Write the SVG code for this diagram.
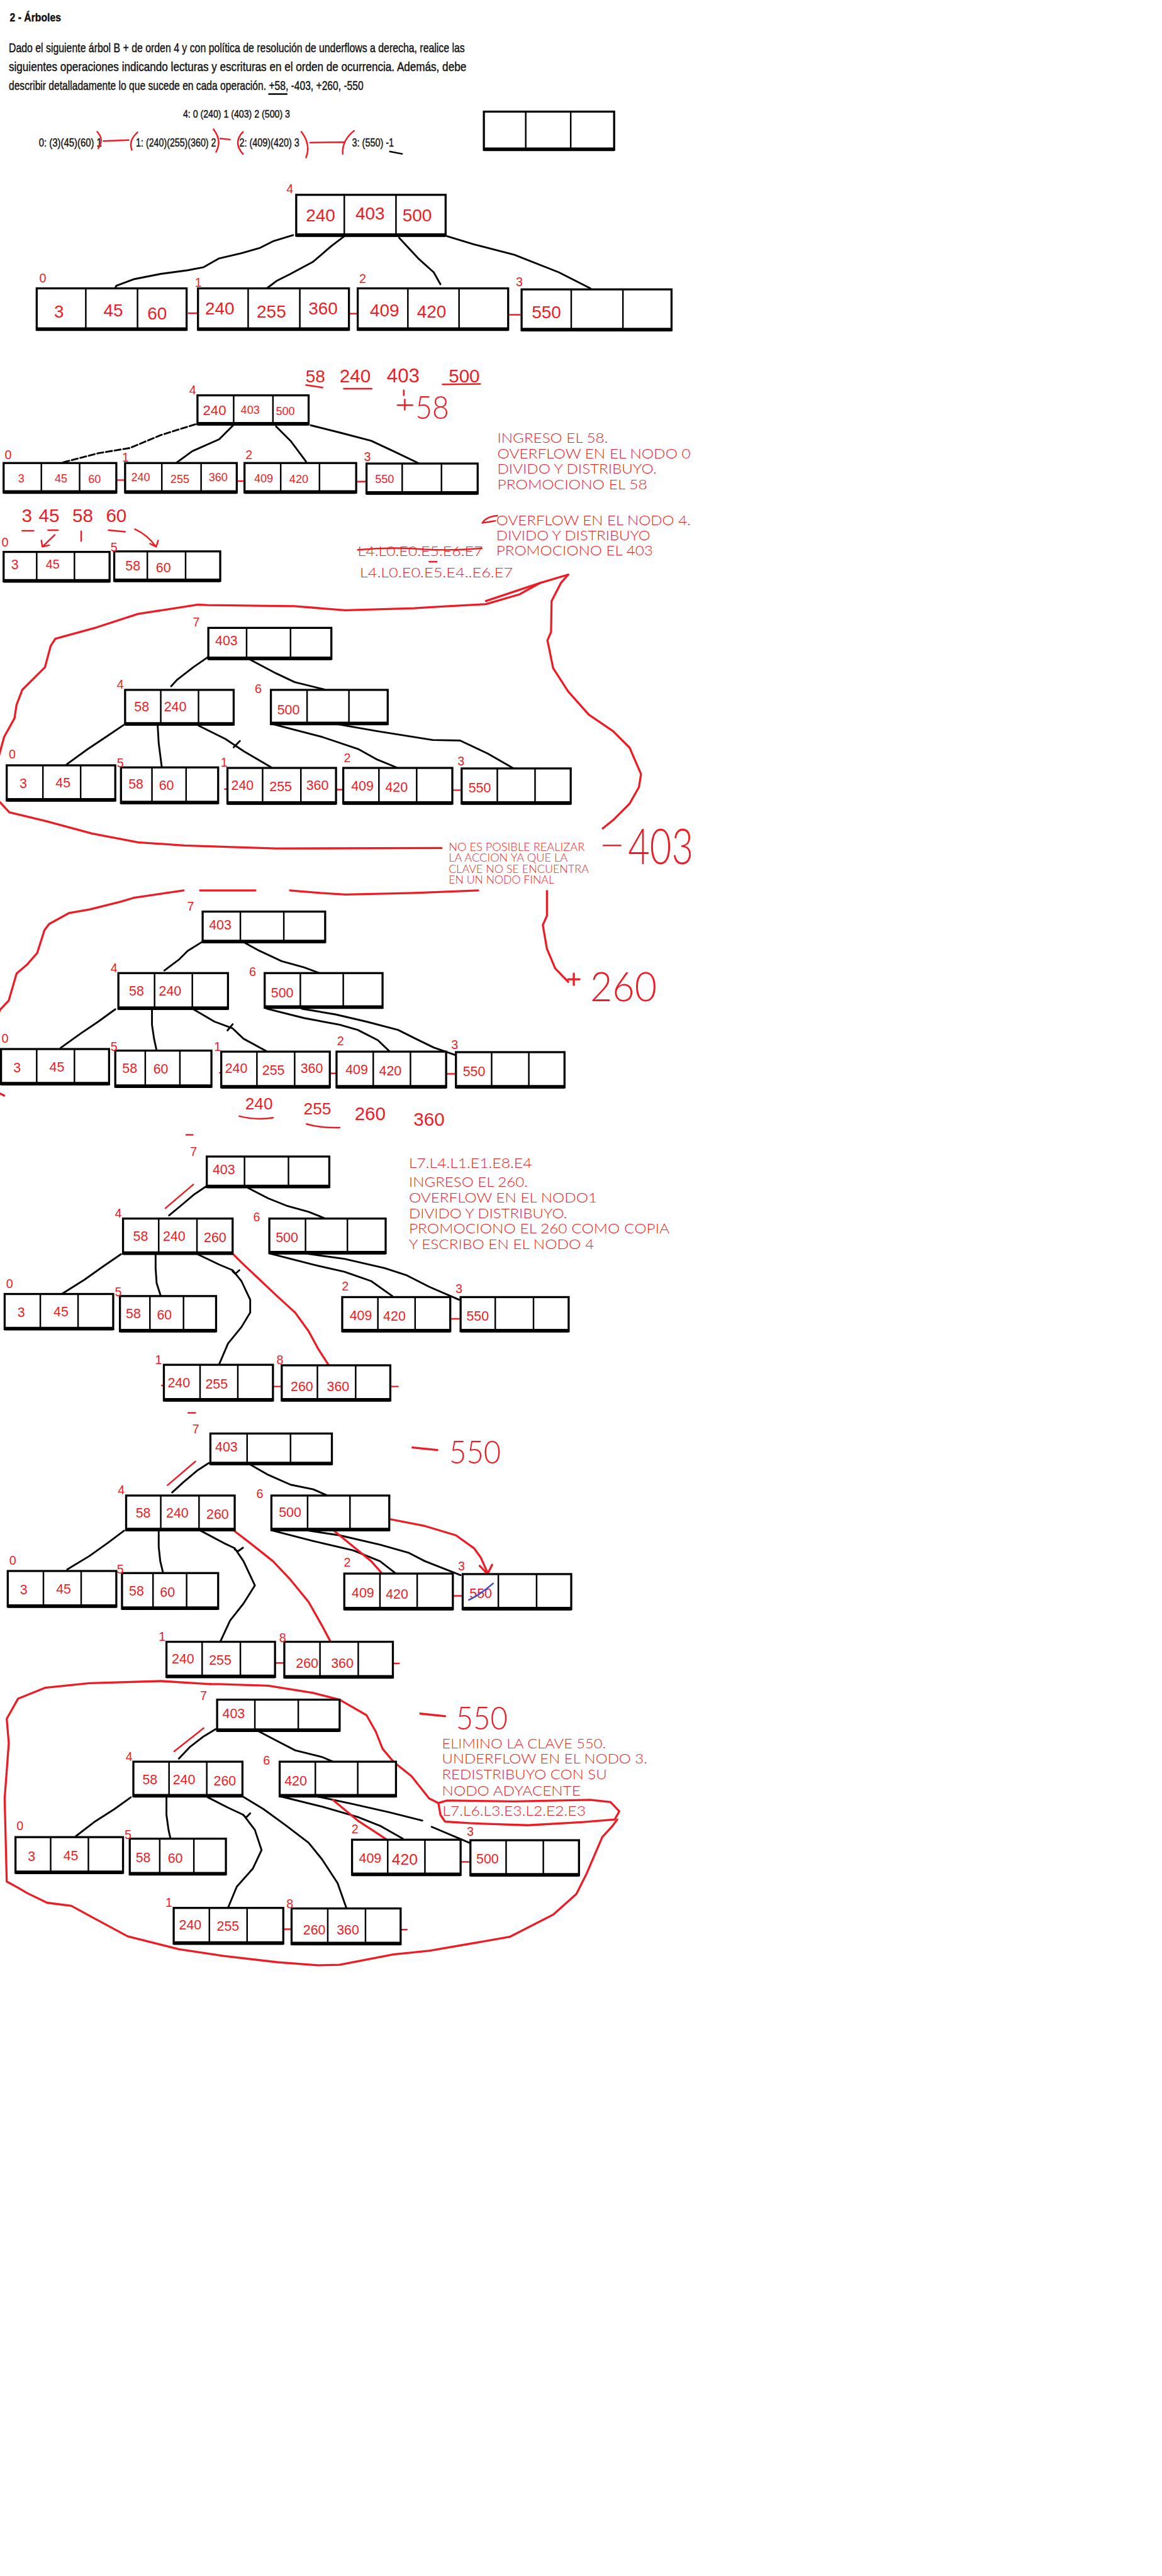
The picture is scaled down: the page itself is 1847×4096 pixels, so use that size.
<svg xmlns="http://www.w3.org/2000/svg" width="1847" height="4096" viewBox="0 0 1847 4096">
<style>
.bx{fill:#fff;stroke:#000;stroke-width:4}
.bb{stroke:#000;stroke-width:7;fill:none}
.dv{stroke:#000;stroke-width:3;fill:none}
.hw{font-family:"Liberation Sans",Arial,sans-serif;fill:#ED1C24;text-anchor:middle}
.big{font-family:"Lato","Liberation Sans",sans-serif;font-weight:300}
.h1{font-size:34px}
.h2{font-size:22px}
.h3{font-size:26px}
.lb{font-family:"Liberation Sans",Arial,sans-serif;fill:#ED1C24;font-size:24px}
.ty{font-family:"Lato","Liberation Sans",sans-serif;font-weight:300;fill:#ED1C24}
.pr{font-family:"Liberation Sans",Arial,sans-serif;fill:#111;stroke:#111;stroke-width:0.5}
.cn{fill:none;stroke:#000;stroke-width:3.5;stroke-linecap:round;stroke-linejoin:round}
.rl{fill:none;stroke:#ED1C24;stroke-width:4;stroke-linecap:round;stroke-linejoin:round}
.rt{fill:none;stroke:#ED1C24;stroke-width:3;stroke-linecap:round;stroke-linejoin:round}
</style>
<rect width="1847" height="4096" fill="#fff"/>
<g transform="scale(0.8217)">

<!-- HEADER -->
<g id="header">
<text class="pr" x="19" y="42" font-size="22" font-weight="bold" textLength="99" lengthAdjust="spacingAndGlyphs">2 - Árboles</text>
<text class="pr" x="17" y="101" font-size="24" textLength="882" lengthAdjust="spacingAndGlyphs">Dado el siguiente árbol B + de orden 4 y con política de resolución de underflows a derecha, realice las</text>
<text class="pr" x="17" y="137" font-size="24" textLength="885" lengthAdjust="spacingAndGlyphs">siguientes operaciones indicando lecturas y escrituras en el orden de ocurrencia. Además, debe</text>
<text class="pr" x="17" y="174" font-size="24" textLength="686" lengthAdjust="spacingAndGlyphs">describir detalladamente lo que sucede en cada operación. +58, -403, +260, -550</text>
<line x1="519" y1="182" x2="556" y2="182" stroke="#000" stroke-width="3"/>
<text class="pr" x="354" y="228" font-size="21" textLength="207" lengthAdjust="spacingAndGlyphs">4: 0 (240) 1 (403) 2 (500) 3</text>
<text class="pr" x="75" y="283" font-size="22" textLength="122" lengthAdjust="spacingAndGlyphs">0: (3)(45)(60) 1</text>
<text class="pr" x="263" y="283" font-size="22" textLength="155" lengthAdjust="spacingAndGlyphs">1: (240)(255)(360) 2</text>
<text class="pr" x="463" y="283" font-size="22" textLength="116" lengthAdjust="spacingAndGlyphs">2: (409)(420) 3</text>
<text class="pr" x="681" y="283" font-size="22" textLength="81" lengthAdjust="spacingAndGlyphs">3: (550) -1</text>
<path class="rt" d="M188,255 Q202,270 190,287 M200,273 L249,271 M266,256 Q248,272 255,290 M413,250 Q430,272 418,294 M426,268 L445,270 M470,255 Q450,276 470,298 M583,255 Q602,280 592,305 M600,276 L666,275 M685,253 Q661,272 663,298"/>
<line x1="753" y1="293" x2="779" y2="298" stroke="#000" stroke-width="3"/>
<g id="empty-node">
<rect class="bx" x="936" y="216" width="252" height="74" stroke-width="5"/>
<path class="dv" d="M1017,216V290M1104,216V290" stroke-width="4"/>
<line class="bb" x1="936" y1="289" x2="1188" y2="289"/>
</g>
</g>

<!-- TREE 1 -->
<g id="tree1">
<g id="t1-connectors">
<path class="cn" d="M567,455 L528,467 L502,480 L467,490 L424,500 L394,517 L363,523 L311,530 L260,540 L225,553 L223,557"/>
<path class="cn" d="M666,457 L640,477 L605,507 L562,530 L536,543 L516,558"/>
<path class="cn" d="M772,460 L809,500 L839,527 L852,550"/>
<path class="cn" d="M865,457 L917,473 L995,493 L1081,527 L1142,558"/>
<path class="rt" d="M365,606H383M675,607H692M986,609H1006" stroke-width="4"/>
</g>
<g id="t1-n4">
<rect class="bx" x="573" y="377" width="289" height="79"/><path class="dv" d="M666,377V456M766,377V456"/><line class="bb" x1="573" y1="455" x2="862" y2="455"/>
<text class="hw h1" x="620" y="428">240</text><text class="hw h1" x="716" y="425">403</text><text class="hw h1" x="807" y="428">500</text>
<text class="lb" x="554" y="374" font-size="26">4</text>
</g>
<g id="t1-n0">
<rect class="bx" x="71" y="558" width="290" height="80"/><path class="dv" d="M166,558V638M266,558V638"/><line class="bb" x1="71" y1="637" x2="361" y2="637"/>
<text class="hw h1" x="114" y="614">3</text><text class="hw h1" x="219" y="612">45</text><text class="hw h1" x="304" y="618">60</text>
<text class="lb" x="76" y="547" font-size="30">0</text>
</g>
<g id="t1-n1">
<rect class="bx" x="383" y="558" width="292" height="80"/><path class="dv" d="M480,558V638M580,558V638"/><line class="bb" x1="383" y1="637" x2="675" y2="637"/>
<text class="hw h1" x="425" y="609">240</text><text class="hw h1" x="525" y="614">255</text><text class="hw h1" x="625" y="608">360</text>
<text class="lb" x="377" y="555" font-size="26">1</text>
</g>
<g id="t1-n2">
<rect class="bx" x="692" y="558" width="291" height="80"/><path class="dv" d="M789,558V638M888,558V638"/><line class="bb" x1="692" y1="637" x2="983" y2="637"/>
<text class="hw h1" x="744" y="612">409</text><text class="hw h1" x="835" y="614">420</text>
<text class="lb" x="695" y="548" font-size="24">2</text>
</g>
<g id="t1-n3">
<rect class="bx" x="1009" y="560" width="290" height="79"/><path class="dv" d="M1105,560V639M1205,560V639"/><line class="bb" x1="1009" y1="638" x2="1299" y2="638"/>
<text class="hw h1" x="1057" y="616">550</text>
<text class="lb" x="998" y="554" font-size="26">3</text>
</g>
</g>

<!-- TREE 2 -->
<g id="tree2">
<g id="t2-notes">
<text class="hw" x="610" y="740" font-size="34">58</text>
<text class="hw" x="687" y="740" font-size="36">240</text>
<text class="hw" x="780" y="740" font-size="38">403</text>
<text class="hw" x="898" y="740" font-size="36">500</text>
<path class="rt" d="M592,745 L624,750 M665,752 L719,752 M856,744 L929,743 M781,755 L781,765"/>
<path class="rt" d="M783,773 V793 M769,784 H798" stroke-width="3.5"/>
<text class="hw big" x="836" y="811" font-size="62" textLength="65" lengthAdjust="spacingAndGlyphs">58</text>
<text class="ty" x="962" y="857" font-size="25" textLength="214" lengthAdjust="spacingAndGlyphs">INGRESO EL 58.</text>
<text class="ty" x="962" y="887" font-size="25" textLength="374" lengthAdjust="spacingAndGlyphs">OVERFLOW EN EL NODO 0</text>
<text class="ty" x="962" y="917" font-size="25" textLength="308" lengthAdjust="spacingAndGlyphs">DIVIDO Y DISTRIBUYO.</text>
<text class="ty" x="962" y="947" font-size="25" textLength="290" lengthAdjust="spacingAndGlyphs">PROMOCIONO EL 58</text>
<path class="rt" d="M962,998 Q940,1000 933,1012 L958,1008"/>
<text class="ty" x="960" y="1016" font-size="25" textLength="376" lengthAdjust="spacingAndGlyphs">OVERFLOW EN EL NODO 4.</text>
<text class="ty" x="960" y="1045" font-size="25" textLength="298" lengthAdjust="spacingAndGlyphs">DIVIDO Y DISTRIBUYO</text>
<text class="ty" x="960" y="1075" font-size="25" textLength="303" lengthAdjust="spacingAndGlyphs">PROMOCIONO EL 403</text>
<text class="ty" x="692" y="1076" font-size="25" textLength="242" lengthAdjust="spacingAndGlyphs">L4.L0.E0.E5.E6.E7</text>
<path class="rt" d="M692,1064 Q760,1058 820,1063 Q880,1066 932,1061" stroke-width="4"/>
<line x1="829" y1="1087" x2="846" y2="1087" stroke="#ED1C24" stroke-width="3"/>
<text class="ty" x="696" y="1117" font-size="25" textLength="296" lengthAdjust="spacingAndGlyphs">L4.L0.E0.E5.E4..E6.E7</text>
<text class="hw" x="52" y="1010" font-size="36">3</text>
<text class="hw" x="95" y="1010" font-size="36">45</text>
<text class="hw" x="160" y="1010" font-size="36">58</text>
<text class="hw" x="225" y="1010" font-size="36">60</text>
<path class="rt" d="M43,1027H65M93,1026H112M157,1028V1047M210,1026 L242,1029"/>
<path class="rt" d="M106,1035 L82,1058 M80,1046 L82,1058 L95,1055"/>
<path class="rt" d="M261,1024 Q285,1035 301,1057 M290,1052 L302,1058 L306,1046"/>
</g>
<g id="t2-connectors">
<path class="cn" d="M378,821 L311,842 L251,867 L190,877 L121,895" stroke-dasharray="12 5"/>
<path class="cn" d="M452,822 L424,850 L372,873 L342,895" stroke-width="3"/>
<path class="cn" d="M534,825 L562,853 L592,893" stroke-width="4.5"/>
<path class="cn" d="M601,823 L657,837 L718,853 L761,873 L809,896" stroke-width="5"/>
<path class="rt" d="M227,929H240M458,931H473M692,932H707" stroke-width="3.5"/>
</g>
<g id="t2-n4">
<rect class="bx" x="382" y="765" width="215" height="56"/><path class="dv" d="M452,765V821M528,765V821"/><line class="bb" x1="382" y1="820" x2="597" y2="820"/>
<text class="hw" x="415" y="803" font-size="27">240</text><text class="hw h2" x="484" y="801">403</text><text class="hw h2" x="552" y="803">500</text>
<text class="lb" x="366" y="763" font-size="20">4</text>
</g>
<g id="t2-n0">
<rect class="bx" x="7" y="896" width="218" height="57"/><path class="dv" d="M80,896V953M154,896V953"/><line class="bb" x1="7" y1="952" x2="225" y2="952"/>
<text class="hw h2" x="41" y="933">3</text><text class="hw h2" x="118" y="933">45</text><text class="hw h2" x="183" y="935">60</text>
<text class="lb" x="9" y="888" font-size="22">0</text>
</g>
<g id="t2-n1">
<rect class="bx" x="242" y="896" width="216" height="57"/><path class="dv" d="M313,896V953M389,896V953"/><line class="bb" x1="242" y1="952" x2="458" y2="952"/>
<text class="hw h2" x="272" y="931">240</text><text class="hw h2" x="348" y="935">255</text><text class="hw h2" x="422" y="931">360</text>
<text class="lb" x="236" y="893" font-size="20">1</text>
</g>
<g id="t2-n2">
<rect class="bx" x="473" y="896" width="216" height="57"/><path class="dv" d="M543,896V953M618,896V953"/><line class="bb" x1="473" y1="952" x2="689" y2="952"/>
<text class="hw h2" x="510" y="933">409</text><text class="hw h2" x="578" y="935">420</text>
<text class="lb" x="475" y="888" font-size="20">2</text>
</g>
<g id="t2-n3">
<rect class="bx" x="709" y="897" width="215" height="58"/><path class="dv" d="M778,897V955M854,897V955"/><line class="bb" x1="709" y1="954" x2="924" y2="954"/>
<text class="hw h2" x="744" y="935">550</text>
<text class="lb" x="704" y="892" font-size="22">3</text>
</g>
<g id="t2-s0">
<rect class="bx" x="7" y="1068" width="205" height="57"/><path class="dv" d="M71,1068V1125M144,1068V1125"/><line class="bb" x1="7" y1="1124" x2="212" y2="1124"/>
<text class="hw" x="29" y="1102" font-size="26">3</text><text class="hw" x="102" y="1100" font-size="24">45</text>
<text class="lb" x="3" y="1058" font-size="22">0</text>
</g>
<g id="t2-s5">
<rect class="bx" x="221" y="1067" width="205" height="57"/><path class="dv" d="M285,1067V1124M359,1067V1124"/><line class="bb" x1="221" y1="1123" x2="426" y2="1123"/>
<text class="hw" x="257" y="1104" font-size="26">58</text><text class="hw" x="316" y="1108" font-size="26">60</text>
<text class="lb" x="214" y="1067" font-size="24">5</text>
</g>
</g>

<!-- TREE 3 -->
<g id="tree3">
<g id="t3-loop">
<path class="rl" d="M1099,1112 L1085,1128 L1067,1163 L1066,1223 L1059,1239 L1070,1293 L1099,1338 L1139,1383 L1186,1415 L1218,1447 L1240,1498 L1236,1523 L1218,1555 L1186,1587 L1166,1603"/>
<path class="rl" d="M1099,1112 L1045,1128 L1005,1150 L940,1169 L850,1174 L801,1177 L668,1181 L570,1173 L401,1171 L383,1170 L267,1188 L187,1214 L107,1236 L98,1250 L87,1291 L43,1335 L32,1364 L28,1390 L8,1426 L-4,1470 L-4,1548 L18,1572 L89,1589 L178,1613 L267,1630 L356,1636 L534,1642 L854,1641"/>
<path class="rl" d="M940,1163 L1045,1128" stroke-width="3"/>
</g>
<g id="t3-notes">
<text class="ty" x="868" y="1646" font-size="21" textLength="263" lengthAdjust="spacingAndGlyphs">NO ES POSIBLE REALIZAR</text>
<text class="ty" x="868" y="1667" font-size="21" textLength="230" lengthAdjust="spacingAndGlyphs">LA ACCION YA QUE LA</text>
<text class="ty" x="868" y="1689" font-size="21" textLength="271" lengthAdjust="spacingAndGlyphs">CLAVE NO SE ENCUENTRA</text>
<text class="ty" x="868" y="1710" font-size="21" textLength="204" lengthAdjust="spacingAndGlyphs">EN UN NODO FINAL</text>
<line x1="1166" y1="1636" x2="1202" y2="1636" stroke="#ED1C24" stroke-width="3"/>
<text class="hw big" x="1278" y="1672" font-size="95" textLength="126" lengthAdjust="spacingAndGlyphs">403</text>
</g>
<g id="t3-connectors">
<path class="cn" d="M403,1271 L374,1291 L343,1315 L331,1328"/>
<path class="cn" d="M483,1276 L534,1303 L570,1320 L627,1334"/>
<path class="cn" d="M239,1403 L205,1426 L169,1450 L129,1479"/>
<path class="cn" d="M305,1404 L307,1438 L313,1485" stroke-width="3"/>
<path class="cn" d="M384,1404 L436,1430 L472,1454 L525,1485 M452,1446 L464,1434"/>
<path class="cn" d="M531,1402 L623,1426 L694,1450 L730,1470 L767,1485"/>
<path class="cn" d="M650,1401 L730,1415 L837,1432 L890,1433 L943,1458 L997,1489"/>
<path class="rt" d="M650,1528H664M877,1529H893M435,1527H438" stroke-width="3.5"/>
</g>
<g id="t3-n7">
<rect class="bx" x="403" y="1215" width="238" height="60"/><path class="dv" d="M477,1215V1275M562,1215V1275"/><line class="bb" x1="403" y1="1274" x2="641" y2="1274"/>
<text class="hw h3" x="438" y="1249">403</text>
<text class="lb" x="373" y="1212" font-size="30">7</text>
</g>
<g id="t3-n4">
<rect class="bx" x="242" y="1335" width="210" height="67"/><path class="dv" d="M311,1335V1402M384,1335V1402"/><line class="bb" x1="242" y1="1401" x2="452" y2="1401"/>
<text class="hw h3" x="274" y="1376">58</text><text class="hw h3" x="339" y="1376">240</text>
<text class="lb" x="226" y="1333">4</text>
</g>
<g id="t3-n6">
<rect class="bx" x="524" y="1335" width="226" height="66"/><path class="dv" d="M594,1335V1401M675,1335V1401"/><line class="bb" x1="524" y1="1400" x2="750" y2="1400"/>
<text class="hw h3" x="558" y="1383">500</text>
<text class="lb" x="493" y="1341" font-size="30">6</text>
</g>
<g id="t3-l0">
<rect class="bx" x="13" y="1481" width="210" height="68"/><path class="dv" d="M83,1481V1549M156,1481V1549"/><line class="bb" x1="13" y1="1548" x2="223" y2="1548"/>
<text class="hw h3" x="45" y="1525">3</text><text class="hw h3" x="122" y="1524">45</text>
<text class="lb" x="17" y="1468">0</text>
</g>
<g id="t3-l5">
<rect class="bx" x="234" y="1485" width="188" height="69"/><path class="dv" d="M294,1485V1554M360,1485V1554"/><line class="bb" x1="234" y1="1553" x2="422" y2="1553"/>
<text class="hw h3" x="263" y="1526">58</text><text class="hw h3" x="322" y="1528">60</text>
<text class="lb" x="226" y="1485">5</text>
</g>
<g id="t3-l1">
<rect class="bx" x="440" y="1486" width="210" height="69"/><path class="dv" d="M508,1486V1555M582,1486V1555"/><line class="bb" x1="440" y1="1554" x2="650" y2="1554"/>
<text class="hw h3" x="469" y="1528">240</text><text class="hw h3" x="543" y="1531">255</text><text class="hw h3" x="614" y="1528">360</text>
<text class="lb" x="427" y="1483" font-size="20">1</text>
</g>
<g id="t3-l2">
<rect class="bx" x="664" y="1486" width="211" height="69"/><path class="dv" d="M733,1486V1555M806,1486V1555"/><line class="bb" x1="664" y1="1554" x2="875" y2="1554"/>
<text class="hw h3" x="701" y="1530">409</text><text class="hw h3" x="767" y="1532">420</text>
<text class="lb" x="665" y="1475" font-size="20">2</text>
</g>
<g id="t3-l3">
<rect class="bx" x="893" y="1487" width="211" height="68"/><path class="dv" d="M962,1487V1555M1035,1487V1555"/><line class="bb" x1="893" y1="1554" x2="1104" y2="1554"/>
<text class="hw h3" x="928" y="1533">550</text>
<text class="lb" x="885" y="1481">3</text>
</g>
</g>

<!-- TREE 4 -->
<g id="tree4">
<g id="t4-loop">
<path class="rl" d="M-4,1965 L0,1954 L17,1936 L32,1884 L52,1867 L72,1844 L86,1800 L95,1788 L133,1767 L173,1760 L233,1745 L260,1737 L355,1723"/>
<path class="rl" d="M387,1723 L494,1723"/>
<path class="rl" d="M561,1723 L620,1728 L668,1731 L801,1728 L925,1723"/>
<path class="rl" d="M1058,1724 L1058,1772 L1050,1790 L1058,1836 L1074,1874 L1099,1900"/>
<path class="rl" d="M-2,2115 L8,2120"/>
</g>
<g id="t4-notes">
<path class="rl" d="M1110,1884 V1906 M1099,1895 H1121" stroke-width="3.5"/>
<text class="hw big" x="1206" y="1937" font-size="80" textLength="129" lengthAdjust="spacingAndGlyphs">260</text>
<text class="hw" x="501" y="2147" font-size="32">240</text>
<text class="hw" x="614" y="2156" font-size="32">255</text>
<text class="hw" x="716" y="2167" font-size="36">260</text>
<text class="hw" x="830" y="2178" font-size="36">360</text>
<path class="rt" d="M463,2160 Q495,2168 528,2163 M593,2175 Q620,2183 657,2182"/>
</g>
<g id="t4-connectors">
<path class="cn" d="M392,1822 L363,1840 L346,1857 L318,1878"/>
<path class="cn" d="M471,1823 L502,1840 L545,1860 L588,1872 L618,1883"/>
<path class="cn" d="M223,1953 L190,1977 L156,2000 L117,2028"/>
<path class="cn" d="M294,1953 L294,1983 L298,2010 L303,2033" stroke-width="3"/>
<path class="cn" d="M374,1953 L415,1977 L450,1990 L471,2010 L515,2034 M440,1994 L450,1982"/>
<path class="cn" d="M516,1952 L588,1970 L657,1983 L692,1993 L731,2013 L753,2034"/>
<path class="cn" d="M584,1952 L649,1963 L709,1977 L770,1993 L804,2010 L839,2027 L882,2042"/>
<path class="rt" d="M638,2077H651M865,2078H881M425,2076H428" stroke-width="3.5"/>
</g>
<g id="t4-n7">
<rect class="bx" x="392" y="1764" width="237" height="59"/><path class="dv" d="M465,1764V1823M549,1764V1823"/><line class="bb" x1="392" y1="1822" x2="629" y2="1822"/>
<text class="hw h3" x="426" y="1799">403</text>
<text class="lb" x="362" y="1762" font-size="30">7</text>
</g>
<g id="t4-n4">
<rect class="bx" x="229" y="1883" width="212" height="69"/><path class="dv" d="M299,1883V1952M372,1883V1952"/><line class="bb" x1="229" y1="1951" x2="441" y2="1951"/>
<text class="hw h3" x="264" y="1927">58</text><text class="hw h3" x="329" y="1927">240</text>
<text class="lb" x="214" y="1882">4</text>
</g>
<g id="t4-n6">
<rect class="bx" x="512" y="1883" width="228" height="67"/><path class="dv" d="M581,1883V1950M664,1883V1950"/><line class="bb" x1="512" y1="1949" x2="740" y2="1949"/>
<text class="hw h3" x="546" y="1930">500</text>
<text class="lb" x="482" y="1889" font-size="30">6</text>
</g>
<g id="t4-l0">
<rect class="bx" x="2" y="2030" width="209" height="68"/><path class="dv" d="M71,2030V2098M144,2030V2098"/><line class="bb" x1="2" y1="2097" x2="211" y2="2097"/>
<text class="hw h3" x="33" y="2075">3</text><text class="hw h3" x="110" y="2074">45</text>
<text class="lb" x="3" y="2018">0</text>
</g>
<g id="t4-l5">
<rect class="bx" x="223" y="2033" width="186" height="70"/><path class="dv" d="M281,2033V2103M348,2033V2103"/><line class="bb" x1="223" y1="2102" x2="409" y2="2102"/>
<text class="hw h3" x="251" y="2076">58</text><text class="hw h3" x="311" y="2078">60</text>
<text class="lb" x="214" y="2033">5</text>
</g>
<g id="t4-l1">
<rect class="bx" x="428" y="2035" width="210" height="69"/><path class="dv" d="M497,2035V2104M570,2035V2104"/><line class="bb" x1="428" y1="2103" x2="638" y2="2103"/>
<text class="hw h3" x="457" y="2076">240</text><text class="hw h3" x="529" y="2080">255</text><text class="hw h3" x="603" y="2076">360</text>
<text class="lb" x="414" y="2033" font-size="20">1</text>
</g>
<g id="t4-l2">
<rect class="bx" x="651" y="2035" width="212" height="69"/><path class="dv" d="M722,2035V2104M794,2035V2104"/><line class="bb" x1="651" y1="2103" x2="863" y2="2103"/>
<text class="hw h3" x="690" y="2079">409</text><text class="hw h3" x="755" y="2081">420</text>
<text class="lb" x="652" y="2023" font-size="20">2</text>
</g>
<g id="t4-l3">
<rect class="bx" x="882" y="2036" width="210" height="68"/><path class="dv" d="M951,2036V2104M1023,2036V2104"/><line class="bb" x1="882" y1="2103" x2="1092" y2="2103"/>
<text class="hw h3" x="917" y="2082">550</text>
<text class="lb" x="873" y="2030">3</text>
</g>
</g>

<!-- TREE 5 -->
<g id="tree5">
<g id="t5-notes">
<line x1="359" y1="2196" x2="374" y2="2196" stroke="#ED1C24" stroke-width="3"/>
<text class="ty" x="791" y="2260" font-size="26" textLength="238" lengthAdjust="spacingAndGlyphs">L7.L4.L1.E1.E8.E4</text>
<text class="ty" x="791" y="2297" font-size="26" textLength="230" lengthAdjust="spacingAndGlyphs">INGRESO EL 260.</text>
<text class="ty" x="791" y="2327" font-size="26" textLength="364" lengthAdjust="spacingAndGlyphs">OVERFLOW EN EL NODO1</text>
<text class="ty" x="791" y="2357" font-size="26" textLength="306" lengthAdjust="spacingAndGlyphs">DIVIDO Y DISTRIBUYO.</text>
<text class="ty" x="791" y="2387" font-size="26" textLength="504" lengthAdjust="spacingAndGlyphs">PROMOCIONO EL 260 COMO COPIA</text>
<text class="ty" x="791" y="2417" font-size="26" textLength="358" lengthAdjust="spacingAndGlyphs">Y ESCRIBO EN EL NODO 4</text>
<path class="rt" d="M320,2338 L374,2292"/>
</g>
<g id="t5-connectors">
<path class="cn" d="M400,2295 L376,2311 L350,2333 L327,2352"/>
<path class="cn" d="M480,2299 L519,2319 L554,2333 L597,2345 L627,2357"/>
<path class="cn" d="M234,2427 L199,2451 L164,2476 L121,2503"/>
<path class="cn" d="M301,2427 L301,2454 L303,2483 L311,2508" stroke-width="3"/>
<path class="cn" d="M382,2427 L424,2447 L450,2458 L467,2479 L484,2515 L484,2540 L467,2568 L441,2600 L424,2640 M450,2460 L455,2465 L463,2458"/>
<path class="rl" d="M450,2426 L467,2443 L502,2476 L536,2508 L571,2540 L597,2576 L616,2611 L636,2642" stroke-width="3"/>
<path class="cn" d="M523,2426 L605,2447 L666,2461 L718,2479 L759,2508"/>
<path class="cn" d="M593,2426 L666,2436 L744,2454 L787,2468 L830,2490 L888,2515"/>
<path class="rt" d="M874,2552H888M529,2683H545M757,2683H770M313,2681H316" stroke-width="3.5"/>
</g>
<g id="t5-n7">
<rect class="bx" x="400" y="2238" width="237" height="59"/><path class="dv" d="M473,2238V2297M558,2238V2297"/><line class="bb" x1="400" y1="2296" x2="637" y2="2296"/>
<text class="hw h3" x="433" y="2272">403</text>
<text class="lb" x="368" y="2237" font-size="30">7</text>
</g>
<g id="t5-n4">
<rect class="bx" x="238" y="2358" width="212" height="68"/><path class="dv" d="M307,2358V2426M381,2358V2426"/><line class="bb" x1="238" y1="2425" x2="450" y2="2425"/>
<text class="hw h3" x="272" y="2401">58</text><text class="hw h3" x="337" y="2401">240</text><text class="hw h3" x="416" y="2403">260</text>
<text class="lb" x="222" y="2356">4</text>
</g>
<g id="t5-n6">
<rect class="bx" x="521" y="2358" width="225" height="67"/><path class="dv" d="M591,2358V2425M672,2358V2425"/><line class="bb" x1="521" y1="2424" x2="746" y2="2424"/>
<text class="hw h3" x="555" y="2404">500</text>
<text class="lb" x="490" y="2364" font-size="30">6</text>
</g>
<g id="t5-l0">
<rect class="bx" x="9" y="2504" width="210" height="68"/><path class="dv" d="M78,2504V2572M151,2504V2572"/><line class="bb" x1="9" y1="2571" x2="219" y2="2571"/>
<text class="hw h3" x="41" y="2548">3</text><text class="hw h3" x="118" y="2547">45</text>
<text class="lb" x="12" y="2492">0</text>
</g>
<g id="t5-l5">
<rect class="bx" x="232" y="2508" width="186" height="68"/><path class="dv" d="M290,2508V2576M355,2508V2576"/><line class="bb" x1="232" y1="2575" x2="418" y2="2575"/>
<text class="hw h3" x="258" y="2551">58</text><text class="hw h3" x="318" y="2553">60</text>
<text class="lb" x="222" y="2508">5</text>
</g>
<g id="t5-l2">
<rect class="bx" x="662" y="2510" width="209" height="66"/><path class="dv" d="M731,2510V2576M803,2510V2576"/><line class="bb" x1="662" y1="2575" x2="871" y2="2575"/>
<text class="hw h3" x="698" y="2554">409</text><text class="hw h3" x="763" y="2556">420</text>
<text class="lb" x="661" y="2497" font-size="20">2</text>
</g>
<g id="t5-l3">
<rect class="bx" x="891" y="2510" width="209" height="66"/><path class="dv" d="M958,2510V2576M1032,2510V2576"/><line class="bb" x1="891" y1="2575" x2="1100" y2="2575"/>
<text class="hw h3" x="924" y="2556">550</text>
<text class="lb" x="881" y="2502">3</text>
</g>
<g id="t5-l1">
<rect class="bx" x="317" y="2641" width="211" height="69"/><path class="dv" d="M387,2641V2710M460,2641V2710"/><line class="bb" x1="317" y1="2709" x2="528" y2="2709"/>
<text class="hw h3" x="346" y="2685">240</text><text class="hw h3" x="419" y="2687">255</text>
<text class="lb" x="300" y="2640" font-size="26">1</text>
</g>
<g id="t5-l8">
<rect class="bx" x="545" y="2642" width="210" height="68"/><path class="dv" d="M614,2642V2710M688,2642V2710"/><line class="bb" x1="545" y1="2709" x2="755" y2="2709"/>
<text class="hw h3" x="584" y="2692">260</text><text class="hw h3" x="654" y="2692">360</text>
<text class="lb" x="535" y="2640" font-size="30">8</text>
</g>
</g>

<!-- TREE 6 -->
<g id="tree6">
<g id="t6-notes">
<line x1="363" y1="2734" x2="379" y2="2734" stroke="#ED1C24" stroke-width="3"/>
<path class="rl" d="M798,2801 L846,2806" stroke-width="3.5"/>
<text class="hw big" x="919" y="2832" font-size="62" textLength="100" lengthAdjust="spacingAndGlyphs">550</text>
<path class="rt" d="M324,2874 L378,2828"/>
</g>
<g id="t6-connectors">
<path class="cn" d="M404,2831 L381,2846 L355,2868 L333,2888"/>
<path class="cn" d="M484,2834 L519,2854 L562,2873 L606,2882 L631,2893"/>
<path class="cn" d="M240,2962 L208,2986 L173,3011 L130,3037"/>
<path class="cn" d="M307,2962 L307,2993 L310,3021 L316,3046" stroke-width="3"/>
<path class="cn" d="M388,2962 L433,2986 L454,2996 L471,3021 L493,3068 L471,3103 L445,3136 L426,3177 M454,2998 L460,3002 L470,2995"/>
<path class="rl" d="M454,2963 L484,2986 L528,3021 L562,3057 L597,3100 L623,3146 L640,3178" stroke-width="3"/>
<path class="cn" d="M528,2962 L606,2982 L683,3000 L735,3021 L766,3045"/>
<path class="cn" d="M597,2962 L657,2971 L735,2989 L791,3005 L822,3021 L891,3048"/>
<path class="rl" d="M757,3065 L718,3021 L675,2986 L640,2957 L614,2950 L597,2946 M586,2958 L592,2940 L604,2950" stroke-width="3"/>
<path class="rl" d="M595,2918 L649,2928 L735,2936 L822,2953 L882,2971 L917,2996 L930,3014 L943,3043 M928,3030 L943,3046 L952,3028" stroke-width="3"/>
<path class="rt" d="M878,3088H894M534,3218H549M761,3219H772" stroke-width="3.5"/>
</g>
<g id="t6-n7">
<rect class="bx" x="407" y="2774" width="235" height="59"/><path class="dv" d="M478,2774V2833M562,2774V2833"/><line class="bb" x1="407" y1="2832" x2="642" y2="2832"/>
<text class="hw h3" x="438" y="2809">403</text>
<text class="lb" x="372" y="2774" font-size="30">7</text>
</g>
<g id="t6-n4">
<rect class="bx" x="244" y="2894" width="210" height="67"/><path class="dv" d="M311,2894V2961M385,2894V2961"/><line class="bb" x1="244" y1="2960" x2="454" y2="2960"/>
<text class="hw h3" x="277" y="2937">58</text><text class="hw h3" x="343" y="2937">240</text><text class="hw h3" x="421" y="2939">260</text>
<text class="lb" x="228" y="2891">4</text>
</g>
<g id="t6-n6">
<rect class="bx" x="525" y="2894" width="228" height="67"/><path class="dv" d="M595,2894V2961M677,2894V2961"/><line class="bb" x1="525" y1="2960" x2="753" y2="2960"/>
<text class="hw h3" x="561" y="2936">500</text>
<text class="lb" x="496" y="2899" font-size="30">6</text>
</g>
<g id="t6-l0">
<rect class="bx" x="15" y="3040" width="210" height="69"/><path class="dv" d="M84,3040V3109M157,3040V3109"/><line class="bb" x1="15" y1="3108" x2="225" y2="3108"/>
<text class="hw h3" x="46" y="3085">3</text><text class="hw h3" x="123" y="3084">45</text>
<text class="lb" x="18" y="3028">0</text>
</g>
<g id="t6-l5">
<rect class="bx" x="236" y="3044" width="186" height="69"/><path class="dv" d="M296,3044V3113M361,3044V3113"/><line class="bb" x1="236" y1="3112" x2="422" y2="3112"/>
<text class="hw h3" x="264" y="3088">58</text><text class="hw h3" x="324" y="3090">60</text>
<text class="lb" x="226" y="3045">5</text>
</g>
<g id="t6-l2">
<rect class="bx" x="666" y="3045" width="210" height="69"/><path class="dv" d="M735,3045V3114M807,3045V3114"/><line class="bb" x1="666" y1="3113" x2="876" y2="3113"/>
<text class="hw h3" x="702" y="3091">409</text><text class="hw h3" x="768" y="3093">420</text>
<text class="lb" x="665" y="3032" font-size="20">2</text>
</g>
<g id="t6-l3">
<rect class="bx" x="895" y="3046" width="210" height="68"/><path class="dv" d="M964,3046V3114M1038,3046V3114"/><line class="bb" x1="895" y1="3113" x2="1105" y2="3113"/>
<text class="hw h3" x="930" y="3092">550</text>
<path d="M907,3096 Q930,3085 954,3064" fill="none" stroke="#3F48CC" stroke-width="3" stroke-linecap="round"/>
<text class="lb" x="886" y="3039">3</text>
</g>
<g id="t6-l1">
<rect class="bx" x="322" y="3177" width="210" height="68"/><path class="dv" d="M391,3177V3245M465,3177V3245"/><line class="bb" x1="322" y1="3244" x2="532" y2="3244"/>
<text class="hw h3" x="354" y="3219">240</text><text class="hw h3" x="426" y="3221">255</text>
<text class="lb" x="307" y="3175" font-size="24">1</text>
</g>
<g id="t6-l8">
<rect class="bx" x="550" y="3177" width="210" height="69"/><path class="dv" d="M619,3177V3246M693,3177V3246"/><line class="bb" x1="550" y1="3245" x2="760" y2="3245"/>
<text class="hw h3" x="594" y="3228">260</text><text class="hw h3" x="662" y="3228">360</text>
<text class="lb" x="540" y="3177" font-size="30">8</text>
</g>
</g>

<!-- TREE 7 -->
<g id="tree7">
<g id="t7-loop">
<path class="rl" d="M407,3259 L311,3253 L173,3257 L87,3266 L35,3287 L13,3326 L17,3373 L9,3480 L13,3641 L35,3653 L52,3663 L91,3682 L138,3688 L182,3712 L247,3747 L346,3772 L433,3785 L536,3797 L614,3803 L657,3802 L761,3782 L830,3775 L986,3748 L1070,3705 L1115,3665 L1135,3625 L1150,3590 L1165,3555 L1185,3533 L1194,3521"/>
<path class="rl" d="M407,3259 L424,3259 L519,3262 L606,3276 L657,3289 L709,3319 L727,3351 L740,3384 L761,3409 L796,3437 L830,3480 L848,3489"/>
<path class="rl" d="M848,3489 L865,3484 L995,3486 L1142,3483 L1181,3487 L1198,3505 L1189,3521 L1125,3526 L1021,3532 L908,3528 L861,3525 L852,3512 Z"/>
</g>
<g id="t7-notes">
<path class="rl" d="M813,3316 L861,3321" stroke-width="3.5"/>
<text class="hw big" x="932" y="3347" font-size="62" textLength="100" lengthAdjust="spacingAndGlyphs">550</text>
<text class="ty" x="855" y="3383" font-size="26" textLength="317" lengthAdjust="spacingAndGlyphs">ELIMINO LA CLAVE 550.</text>
<text class="ty" x="855" y="3413" font-size="26" textLength="397" lengthAdjust="spacingAndGlyphs">UNDERFLOW EN EL NODO 3.</text>
<text class="ty" x="855" y="3443" font-size="26" textLength="319" lengthAdjust="spacingAndGlyphs">REDISTRIBUYO CON SU</text>
<text class="ty" x="855" y="3474" font-size="26" textLength="268" lengthAdjust="spacingAndGlyphs">NODO ADYACENTE</text>
<text class="ty" x="856" y="3514" font-size="26" textLength="277" lengthAdjust="spacingAndGlyphs">L7.L6.L3.E3.L2.E2.E3</text>
<path class="rt" d="M337,3389 L394,3344"/>
</g>
<g id="t7-connectors">
<path class="cn" d="M417,3346 L394,3360 L368,3380 L346,3403"/>
<path class="cn" d="M500,3350 L536,3369 L571,3387 L623,3400 L644,3409"/>
<path class="cn" d="M253,3478 L221,3501 L182,3526 L147,3553"/>
<path class="cn" d="M322,3478 L322,3512 L326,3541 L330,3559" stroke-width="3"/>
<path class="cn" d="M402,3478 L441,3498 L471,3512 L493,3541 L506,3580 L489,3616 L458,3651 L441,3692 M470,3512 L476,3517 L484,3509"/>
<path class="cn" d="M469,3476 L510,3501 L554,3533 L597,3566 L623,3598 L653,3644 L670,3692"/>
<path class="cn" d="M542,3476 L623,3496 L692,3516 L735,3533 L779,3558"/>
<path class="cn" d="M612,3476 L683,3491 L753,3507 L817,3523 M835,3535 L908,3566"/>
<path class="rl" d="M644,3483 L692,3523 L735,3551 L770,3575" stroke-width="3"/>
<path class="rt" d="M893,3603H908M549,3733H564M776,3734H787" stroke-width="3.5"/>
</g>
<g id="t7-n7">
<rect class="bx" x="420" y="3289" width="237" height="60"/><path class="dv" d="M493,3289V3349M577,3289V3349"/><line class="bb" x1="420" y1="3348" x2="657" y2="3348"/>
<text class="hw h3" x="452" y="3325">403</text>
<text class="lb" x="387" y="3290" font-size="30">7</text>
</g>
<g id="t7-n4">
<rect class="bx" x="258" y="3409" width="211" height="67"/><path class="dv" d="M327,3409V3476M400,3409V3476"/><line class="bb" x1="258" y1="3475" x2="469" y2="3475"/>
<text class="hw h3" x="290" y="3453">58</text><text class="hw h3" x="356" y="3453">240</text><text class="hw h3" x="435" y="3455">260</text>
<text class="lb" x="243" y="3407">4</text>
</g>
<g id="t7-n6">
<rect class="bx" x="541" y="3409" width="225" height="67"/><path class="dv" d="M610,3409V3476M692,3409V3476"/><line class="bb" x1="541" y1="3475" x2="766" y2="3475"/>
<text class="hw h3" x="572" y="3455">420</text>
<text class="lb" x="509" y="3415" font-size="30">6</text>
</g>
<g id="t7-l0">
<rect class="bx" x="30" y="3555" width="208" height="69"/><path class="dv" d="M98,3555V3624M171,3555V3624"/><line class="bb" x1="30" y1="3623" x2="238" y2="3623"/>
<text class="hw h3" x="61" y="3601">3</text><text class="hw h3" x="137" y="3600">45</text>
<text class="lb" x="32" y="3542">0</text>
</g>
<g id="t7-l5">
<rect class="bx" x="251" y="3558" width="186" height="69"/><path class="dv" d="M309,3558V3627M375,3558V3627"/><line class="bb" x1="251" y1="3626" x2="437" y2="3626"/>
<text class="hw h3" x="277" y="3603">58</text><text class="hw h3" x="339" y="3605">60</text>
<text class="lb" x="241" y="3558">5</text>
</g>
<g id="t7-l2">
<rect class="bx" x="681" y="3560" width="210" height="68"/><path class="dv" d="M750,3560V3628M822,3560V3628"/><line class="bb" x1="681" y1="3627" x2="891" y2="3627"/>
<text class="hw h3" x="716" y="3605">409</text><text class="hw" x="783" y="3608" font-size="30">420</text>
<text class="lb" x="680" y="3548" font-size="20">2</text>
</g>
<g id="t7-l3">
<rect class="bx" x="910" y="3561" width="210" height="68"/><path class="dv" d="M979,3561V3629M1051,3561V3629"/><line class="bb" x1="910" y1="3628" x2="1120" y2="3628"/>
<text class="hw h3" x="943" y="3606">500</text>
<text class="lb" x="903" y="3553">3</text>
</g>
<g id="t7-l1">
<rect class="bx" x="336" y="3692" width="212" height="69"/><path class="dv" d="M405,3692V3761M478,3692V3761"/><line class="bb" x1="336" y1="3760" x2="548" y2="3760"/>
<text class="hw h3" x="368" y="3734">240</text><text class="hw h3" x="441" y="3736">255</text>
<text class="lb" x="320" y="3690" font-size="24">1</text>
</g>
<g id="t7-l8">
<rect class="bx" x="564" y="3693" width="211" height="69"/><path class="dv" d="M634,3693V3762M707,3693V3762"/><line class="bb" x1="564" y1="3761" x2="775" y2="3761"/>
<text class="hw h3" x="608" y="3744">260</text><text class="hw h3" x="673" y="3744">360</text>
<text class="lb" x="554" y="3692" font-size="30">8</text>
</g>
</g>

</g>
</svg>
